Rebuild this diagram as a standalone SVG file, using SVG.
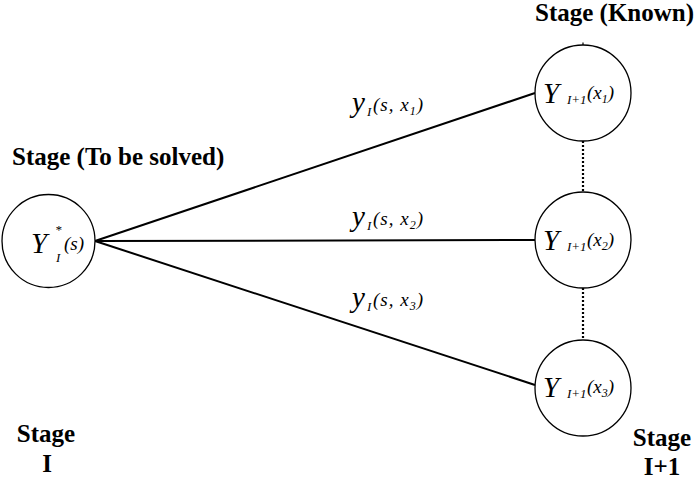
<svg xmlns="http://www.w3.org/2000/svg" width="697" height="489" viewBox="0 0 697 489">
<rect width="697" height="489" fill="#fff"/>
<g id="connectors" stroke="#000" fill="none">
<line stroke-width="2" x1="95" y1="241" x2="535" y2="93"/>
<line stroke-width="2" x1="95" y1="241" x2="535" y2="240"/>
<line stroke-width="2" x1="95" y1="241" x2="535" y2="385"/>
<line stroke-width="2.2" stroke-dasharray="2,2" x1="583" y1="141" x2="583" y2="192"/>
<line stroke-width="2.2" stroke-dasharray="2,2" x1="583" y1="288" x2="583" y2="340"/>
<line stroke-width="1.2" x1="583" y1="42.5" x2="583" y2="45"/>
</g>
<g id="node-left">
<circle cx="48.5" cy="241" r="46.5" fill="#fff" stroke="#000" stroke-width="1.3"/>
<text x="31" y="253" font-family="Liberation Serif" style="font-family:'Liberation Serif',serif !important" font-style="italic" font-size="29">Y</text>
<text x="55" y="234" font-family="Liberation Serif" style="font-family:'Liberation Serif',serif !important" font-style="italic" font-size="13">*</text>
<text x="56" y="262" font-family="Liberation Serif" style="font-family:'Liberation Serif',serif !important" font-style="italic" font-size="13">I</text>
<text x="64" y="250" font-family="Liberation Serif" style="font-family:'Liberation Serif',serif !important" font-style="italic" font-size="19">(s)</text>
</g>
<g id="node-x1">
<circle cx="583" cy="93" r="48" fill="#fff" stroke="#000" stroke-width="1.3"/>
<text x="543" y="103" font-family="Liberation Serif" style="font-family:'Liberation Serif',serif !important" font-style="italic" font-size="29">Y</text>
<text x="567" y="104" font-family="Liberation Serif" style="font-family:'Liberation Serif',serif !important" font-style="italic" font-size="13">I+1</text>
<text x="587" y="99" font-family="Liberation Serif" style="font-family:'Liberation Serif',serif !important" font-style="italic" font-size="19">(x<tspan font-size="12" dy="4">1</tspan><tspan dy="-4">)</tspan></text>
</g>
<g id="node-x2">
<circle cx="583" cy="240" r="48" fill="#fff" stroke="#000" stroke-width="1.3"/>
<text x="543" y="250" font-family="Liberation Serif" style="font-family:'Liberation Serif',serif !important" font-style="italic" font-size="29">Y</text>
<text x="567" y="251" font-family="Liberation Serif" style="font-family:'Liberation Serif',serif !important" font-style="italic" font-size="13">I+1</text>
<text x="587" y="246" font-family="Liberation Serif" style="font-family:'Liberation Serif',serif !important" font-style="italic" font-size="19">(x<tspan font-size="12" dy="4">2</tspan><tspan dy="-4">)</tspan></text>
</g>
<g id="node-x3">
<circle cx="583" cy="388" r="48" fill="#fff" stroke="#000" stroke-width="1.3"/>
<text x="543" y="397" font-family="Liberation Serif" style="font-family:'Liberation Serif',serif !important" font-style="italic" font-size="29">Y</text>
<text x="567" y="398" font-family="Liberation Serif" style="font-family:'Liberation Serif',serif !important" font-style="italic" font-size="13">I+1</text>
<text x="587" y="393" font-family="Liberation Serif" style="font-family:'Liberation Serif',serif !important" font-style="italic" font-size="19">(x<tspan font-size="12" dy="4">3</tspan><tspan dy="-4">)</tspan></text>
</g>
<g id="labels">
<text x="352" y="112" font-family="Liberation Serif" style="font-family:'Liberation Serif',serif !important" font-style="italic" font-size="29">y</text>
<text x="367" y="116" font-family="Liberation Serif" style="font-family:'Liberation Serif',serif !important" font-style="italic" font-size="13">I</text>
<text x="373" y="111" letter-spacing="1" font-family="Liberation Serif" style="font-family:'Liberation Serif',serif !important" font-style="italic" font-size="19">(s, x<tspan font-size="12" dy="4">1</tspan><tspan dy="-4">)</tspan></text>
<text x="352" y="226" font-family="Liberation Serif" style="font-family:'Liberation Serif',serif !important" font-style="italic" font-size="29">y</text>
<text x="367" y="230" font-family="Liberation Serif" style="font-family:'Liberation Serif',serif !important" font-style="italic" font-size="13">I</text>
<text x="373" y="225" letter-spacing="1" font-family="Liberation Serif" style="font-family:'Liberation Serif',serif !important" font-style="italic" font-size="19">(s, x<tspan font-size="12" dy="4">2</tspan><tspan dy="-4">)</tspan></text>
<text x="352" y="307" font-family="Liberation Serif" style="font-family:'Liberation Serif',serif !important" font-style="italic" font-size="29">y</text>
<text x="367" y="311" font-family="Liberation Serif" style="font-family:'Liberation Serif',serif !important" font-style="italic" font-size="13">I</text>
<text x="373" y="306" letter-spacing="1" font-family="Liberation Serif" style="font-family:'Liberation Serif',serif !important" font-style="italic" font-size="19">(s, x<tspan font-size="12" dy="4">3</tspan><tspan dy="-4">)</tspan></text>
<text x="535" y="21" font-family="Liberation Serif" style="font-family:'Liberation Serif',serif !important" font-weight="bold" font-size="25">Stage (Known)</text>
<text x="12" y="165" font-family="Liberation Serif" style="font-family:'Liberation Serif',serif !important" font-weight="bold" font-size="25">Stage (To be solved)</text>
<text x="46" y="442" text-anchor="middle" font-family="Liberation Serif" style="font-family:'Liberation Serif',serif !important" font-weight="bold" font-size="25">Stage</text>
<text x="47" y="472" text-anchor="middle" font-family="Liberation Serif" style="font-family:'Liberation Serif',serif !important" font-weight="bold" font-size="25">I</text>
<text x="662" y="446" text-anchor="middle" font-family="Liberation Serif" style="font-family:'Liberation Serif',serif !important" font-weight="bold" font-size="25">Stage</text>
<text x="662" y="475" text-anchor="middle" font-family="Liberation Serif" style="font-family:'Liberation Serif',serif !important" font-weight="bold" font-size="25">I+1</text>
</g>
</svg>
